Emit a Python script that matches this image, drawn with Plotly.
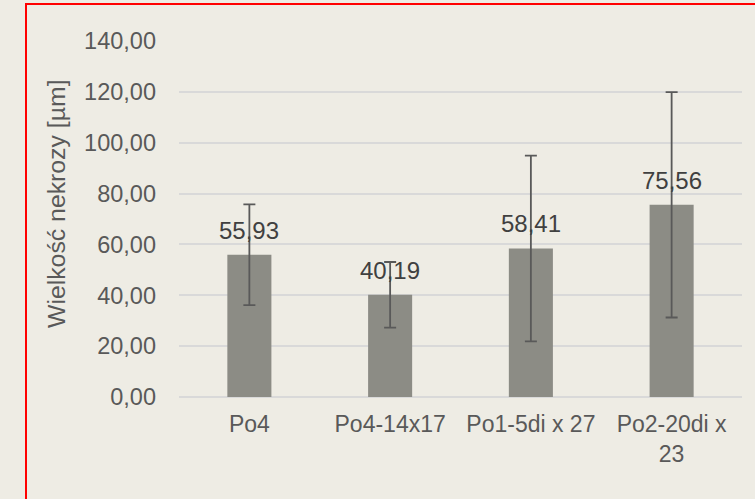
import plotly.graph_objects as go

categories = ["Po4", "Po4-14x17", "Po1-5di x 27", "Po2-20di x<br>23"]
values = [55.93, 40.19, 58.41, 75.56]
errors = [19.8, 12.9, 36.5, 44.3]
tick_vals = [0, 20, 40, 60, 80, 100, 120, 140]
tick_text = ["0,00", "20,00", "40,00", "60,00", "80,00", "100,00", "120,00", "140,00"]
labels = [f"{v:.2f}".replace(".", ",") for v in values]

BG = "#EEECE4"
FONT = "Liberation Sans, Arial, sans-serif"

W, H = 755, 499
L, R, T, B = 179, 13, 41, 102
pw, ph = W - L - R, H - T - B

fig = go.Figure()
fig.add_trace(go.Bar(
    x=categories, y=values,
    marker=dict(color="#8C8C85", line=dict(width=0)),
    error_y=dict(type="data", array=errors, visible=True,
                 color="#595959", thickness=1.8, width=6),
    hoverinfo="skip",
))

for c, v, t in zip(categories, values, labels):
    fig.add_annotation(x=c, y=v, xref="x", yref="y", text=t, showarrow=False,
                       yanchor="middle", xanchor="center", yshift=24.5,
                       font=dict(family=FONT, size=24, color="#404040"))

fig.add_annotation(xref="paper", yref="paper", x=(57 - L) / pw, y=(H - B - 204) / ph,
                   text="Wielkość nekrozy [µm]", showarrow=False, textangle=-90,
                   xanchor="center", yanchor="middle",
                   font=dict(family=FONT, size=24.8, color="#595959"))

# red frame
fig.add_shape(type="rect", xref="paper", yref="paper",
              x0=(26 - L) / pw, x1=(W + 10 - L) / pw,
              y0=(H - B - (H + 10)) / ph, y1=(H - B - 4) / ph,
              line=dict(color="#FF0000", width=2), fillcolor="rgba(0,0,0,0)", layer="above")

fig.update_layout(
    width=W, height=H,
    margin=dict(l=L, r=R, t=T, b=B, pad=0),
    paper_bgcolor=BG, plot_bgcolor=BG,
    bargap=0.687,
    showlegend=False,
    font=dict(family=FONT, size=23, color="#595959"),
    xaxis=dict(showgrid=False, showline=False, zeroline=False, ticks="",
               tickfont=dict(family=FONT, size=23, color="#595959"),
               ticklabelstandoff=11, fixedrange=True),
    yaxis=dict(range=[0, 140], tickvals=tick_vals, ticktext=tick_text,
               showgrid=True, gridcolor="#D9D9D9", gridwidth=1.5,
               zeroline=True, zerolinecolor="#D9D9D9", zerolinewidth=1.5,
               showline=False, ticks="",
               tickfont=dict(family=FONT, size=23.5, color="#595959"),
               ticklabelstandoff=22, fixedrange=True),
)

fig.write_html("out.html", config={"displayModeBar": False},
               post_script="document.body.style.margin='0';document.body.style.background='%s';" % BG)
